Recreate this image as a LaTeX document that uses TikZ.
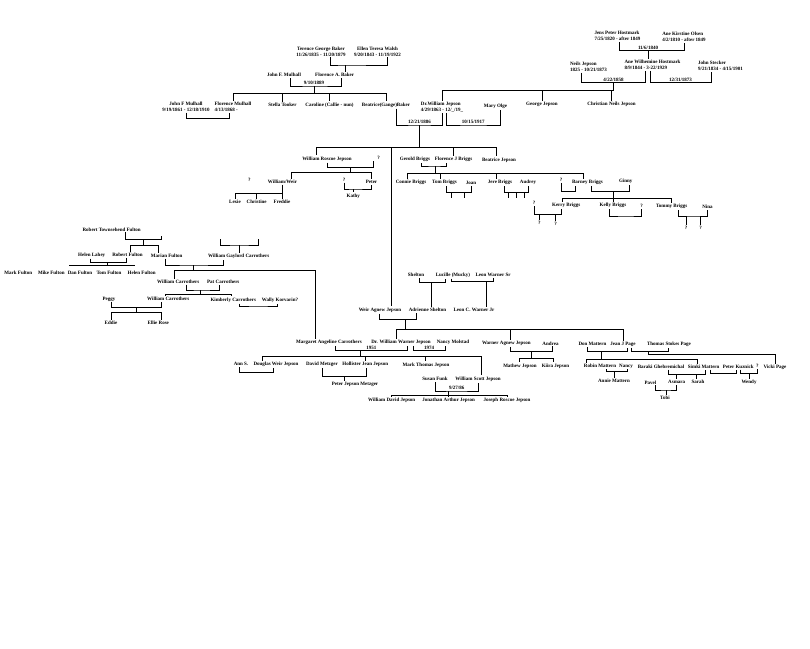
\documentclass[tikz,border=0pt]{standalone}
\usepackage{fontspec}
\setmainfont{Liberation Serif}

\begin{document}
\begin{tikzpicture}[x=1pt, y=-1pt, line width=0.9pt,
  font=\fontsize{5}{5.8}\selectfont\bfseries,
  person/.style={inner sep=0.8pt, align=center},
  dates/.style={inner sep=1pt, anchor=south}]
  \fill[white] (0,0) rectangle (810,648);
  \useasboundingbox (0,0) rectangle (810,648);

  % Hostmark and Jepson
  \node[person, align=left] (jens) at (617.5,36) {Jens Peter Hostmark\\7/25/1820 - after 1849};
  \node[person, align=left] (kirstine) at (684,37) {Ane Kirstine Olsen\\4/2/1810 - after 1849};
  \node[person, align=left] (neils) at (588.5,66.7) {Neils Jepson\\1825 - 10/21/1873};
  \node[person, align=left] (anew) at (652.5,65) {Ane Wilhemine Hostmark\\8/9/1844 - 3-22/1929};
  \node[person, align=left] (stecker) at (720.5,66) {John Stecker\\9/21/1834 - 4/15/1901};
  \node[dates] (m1840) at (648,50.7) {11/6/1840};
  \node[dates] (m1858) at (613.5,82.7) {4/22/1858};
  \node[dates] (m1873) at (680.5,82.7) {12/31/1873};
  \draw ([xshift=1.5pt]jens.south) |- (m1840.south) -| (kirstine.south);
  \draw (m1840.south) -- (m1840.south |- anew.north);
  \draw ([xshift=-7pt]neils.south) |- (m1858.south) -| ([xshift=-7pt]anew.south);
  \draw ([xshift=-2.5pt]anew.south) |- (m1873.south) -| ([xshift=-9.5pt]stecker.south);
  \node[person, align=left] (drwill) at (442,107.2) {Dr.William Jepson\\4/29/1863 - 12/\_/19\_};
  \node[person] (george) at (542,104.3) {George Jepson};
  \node[person] (christian) at (611.5,104.3) {Christian Neils Jepson};
  \node[person] (mary) at (495.5,106) {Mary Olge};
  \coordinate (k1858) at (613.5,90.7);
  \draw (m1858.south) -- (k1858);
  \foreach \c in {drwill,george,christian} \draw (k1858) -| (\c.north);

  % Baker and Mulhall
  \node[person] (terence) at (321,51.5) {Terence George Baker\\11/26/1835 - 11/20/1879};
  \node[person] (ellen) at (377.5,51.5) {Ellen Teresa Walsh\\9/20/1843 - 11/19/1922};
  \node[person] (mulhall) at (284,75) {John F. Mulhall};
  \node[person] (florbaker) at (334.7,75) {Florence A. Baker};
  \coordinate (mbaker) at (345,65);
  \draw ([xshift=9pt]terence.south) |- (mbaker) -| ([xshift=10pt]ellen.south);
  \draw (mbaker) -- (mbaker |- florbaker.north);
  \node[dates] (m1889) at (314,86) {9/10/1889};
  \draw ([xshift=6.7pt]mulhall.south) |- (m1889.south) -| ([xshift=7pt]florbaker.south);
  \node[person] (johnfm) at (186,106.8) {John F Mulhall\\9/19/1861 - 12/18/1910};
  \node[person, align=left] (flormul) at (233,106.8) {Florence Mulhall\\4/13/1868 -};
  \node[person] (stella) at (282.5,105) {Stella Tooker};
  \node[person] (caroline) at (329.5,105) {Caroline (Callie - nun)};
  \node[person] (beagb) at (386,105) {Beatrice(Gange)Baker};
  \coordinate (k1889) at (314,93.3);
  \draw (m1889.south) -- (k1889);
  \foreach \c in {flormul,stella,caroline,beagb} \draw (k1889) -| (\c.north);
  \coordinate (mmul) at (207.7,118.3);
  \draw (johnfm.south) |- (mmul) -| ([xshift=-3.5pt]flormul.south);

  % Dr. William Jepson
  \node[dates] (m1886) at (419.5,125) {12/21/1886};
  \node[dates] (m1917) at (473.3,125) {10/15/1917};
  \draw ([xshift=10.7pt]beagb.south) |- (m1886.south) -| (drwill.south);
  \draw ([xshift=4.7pt]drwill.south) |- (m1917.south) -| ([xshift=4.5pt]mary.south);
  \coordinate (k1886) at (419.5,147.5);
  \draw (m1886.south) -- (k1886);

  % William Roscoe Jepson
  \node[person] (wroscoe) at (327,159) {William Roscoe Jepson};
  \node[person] (q1) at (378.7,158.3) {?};
  \node[person] (q2) at (249.3,180) {?};
  \node[person] (wweir) at (282.5,181.7) {William/Weir};
  \node[person] (q3) at (344,179.7) {?};
  \node[person] (peter) at (371.5,181.7) {Peter};
  \node[person] (kathy) at (353.3,196) {Kathy};
  \node[person] (lexie) at (235,201.7) {Lexie};
  \node[person] (christine) at (256.7,201.7) {Christine};
  \node[person] (freddie) at (282,201.7) {Freddie};
  \draw (k1886) -| ([xshift=-11pt]wroscoe.north);
  \coordinate (mrj) at (350,167.7);
  \draw (wroscoe.south) |- (mrj) -| ([xshift=-5pt]q1.south);
  \coordinate (krj) at (350,172.3);
  \draw (mrj) -- (krj);
  \draw (krj) -| ([xshift=8.5pt]wweir.north);
  \draw (krj) -| (peter.north);
  \coordinate (mqp) at (353.3,189);
  \draw (q3.south) |- (mqp) -| (peter.south);
  \draw (mqp) -- (kathy.north);
  \coordinate (kww) at (282.5,193.3);
  \draw (wweir.south) -- (kww);
  \foreach \c in {lexie,christine,freddie} \draw (kww) -| (\c.north);

  % Briggs
  \node[person] (gerold) at (415,159.5) {Gerold Briggs};
  \node[person] (florj) at (453.5,159.5) {Florence J Briggs};
  \node[person] (beajep) at (499,160) {Beatrice Jepson};
  \draw (k1886) -| (florj.north);
  \draw (k1886) -| ([xshift=-3pt]beajep.north);
  \coordinate (mgb) at (435,166);
  \draw ([xshift=6.7pt]gerold.south) |- (mgb) -| ([xshift=-6.8pt]florj.south);
  \coordinate (kgb) at (435,173.3);
  \draw (mgb) -- (kgb);
  \node[person] (connie) at (411,182.7) {Connie Briggs};
  \node[person] (tom) at (444.5,182.7) {Tom Briggs};
  \node[person] (joan) at (471,182.7) {Joan};
  \node[person] (jere) at (500,182.7) {Jere Briggs};
  \node[person] (audrey) at (528,182.7) {Audrey};
  \node[person] (q4) at (561,180) {?};
  \node[person] (barney) at (587.5,182.7) {Barney Briggs};
  \node[person] (ginny) at (625.8,181.7) {Ginny};
  \foreach \c in {connie,tom,jere,barney} \draw (kgb) -| ([xshift=-4pt]\c.north);
  \coordinate (mtj) at (459,192.7);
  \draw ([xshift=2.2pt]tom.south) |- (mtj) -| (joan.south);
  \foreach \dx in {-7.3,5} \draw ([xshift=\dx pt]mtj) -- ++(0,5.6);
  \coordinate (mja) at (516.3,192.7);
  \draw ([xshift=4pt]jere.south) |- (mja) -| (audrey.south);
  \foreach \dx in {-8,0,7.7} \draw ([xshift=\dx pt]mja) -- ++(0,5.6);
  \coordinate (mqb) at (568,191.7);
  \draw (q4.south) |- (mqb) -| ([xshift=-12.5pt]barney.south);
  \coordinate (mbg) at (613.3,191.7);
  \draw ([xshift=4pt]barney.south) |- (mbg) -| ([xshift=4pt]ginny.south);
  \node[person] (q6) at (534,203.3) {?};
  \node[person] (kerry) at (566.2,205.7) {Kerry Briggs};
  \node[person] (kelly) at (613,205.7) {Kelly Briggs};
  \node[person] (q5) at (641.7,205.7) {?};
  \node[person] (tommy) at (671.7,206.7) {Tommy Briggs};
  \node[person] (nina) at (707.5,206.7) {Nina};
  \coordinate (kbg) at (613.3,198.3);
  \draw (mbg) -- (kbg);
  \draw (kbg) -| ([xshift=-3.5pt]kerry.north);
  \draw (kbg) -| (kelly.north);
  \draw (kbg) -| (tommy.north);
  \coordinate (mqk) at (548.3,214.3);
  \draw (q6.south) |- (mqk) -| ([xshift=-4.5pt]kerry.south);
  \node[person] (q7) at (539.3,223.3) {?};
  \node[person] (q8) at (555.7,224) {?};
  \draw (mqk -| q7.north) -- (q7.north);
  \draw (mqk -| q8.north) -- (q8.north);
  \coordinate (mkq) at (626.3,216);
  \draw ([xshift=-3.7pt]kelly.south) |- (mkq) -| (q5.south);
  \coordinate (mtn) at (693.3,216);
  \draw ([xshift=6.6pt]tommy.south) |- (mtn) -| (nina.south);
  \node[person] (q9) at (686,227.7) {?};
  \node[person] (q10) at (700.7,227.7) {?};
  \draw (mtn -| q9.north) -- (q9.north);
  \draw (mtn -| q10.north) -- (q10.north);

  % Fulton
  \node[person] (rtf) at (111.7,229.3) {Robert Townsehend Fulton};
  \node[person] (helen) at (91.7,255) {Helen Lahey};
  \node[person] (robf) at (127.5,255) {Robert Fulton};
  \node[person] (marian) at (166.7,255.7) {Marian Fulton};
  \coordinate (rtfsp) at (161.7,235.5);
  \coordinate (mrtf) at (143.3,239.3);
  \draw ([xshift=13.3pt]rtf.south) |- (mrtf) -| (rtfsp);
  \coordinate (krtf) at (143.3,245.7);
  \draw (mrtf) -- (krtf);
  \draw (krtf) -| ([xshift=2.5pt]robf.north);
  \draw (krtf) -| ([xshift=-8.4pt]marian.north);
  \coordinate (mhr) at (107.3,262.3);
  \draw ([xshift=-1pt]helen.south) |- (mhr) -| ([xshift=-0.8pt]robf.south);
  \coordinate (khrl) at (69.3,265.7);
  \coordinate (khrr) at (135,265.7);
  \draw (mhr) -- (mhr |- khrl);
  \draw (khrl) -- (khrr);
  \node[person] (mark) at (18.3,272.3) {Mark Fulton};
  \node[person] (mike) at (51.3,272.3) {Mike Fulton};
  \node[person] (dan) at (80,272.3) {Dan Fulton};
  \node[person] (tomf) at (109,272.3) {Tom Fulton};
  \node[person] (helenf) at (141.7,272.3) {Helen Fulton};

  % Carrothers
  \node[person] (wgc) at (238.7,256.7) {William Gaylord Carrothers};
  \coordinate (wgcpa) at (220,239);
  \coordinate (wgcpb) at (258.3,239);
  \coordinate (mwgc) at (239.3,245);
  \draw (wgcpa) |- (mwgc) -| (wgcpb);
  \draw (mwgc) -- (mwgc |- wgc.north);
  \coordinate (mmw) at (193.3,265);
  \draw ([xshift=-1.7pt]marian.south) |- (mmw) -| ([xshift=-15.4pt]wgc.south);
  \coordinate (kmw) at (193.3,270.7);
  \draw (mmw) -- (kmw);
  \node[person] (wcar) at (178.3,281.7) {William Carrothers};
  \node[person] (pat) at (223.3,281.7) {Pat Carrothers};
  \draw (kmw) -| ([xshift=-4pt]wcar.north);
  \coordinate (mwp) at (200.7,290);
  \draw ([xshift=8.4pt]wcar.south) |- (mwp) -| ([xshift=-4.3pt]pat.south);
  \coordinate (kwp) at (200.7,294);
  \draw (mwp) -- (kwp);
  \node[person] (peggy) at (109,299) {Peggy};
  \node[person] (wcarjr) at (168.3,299) {William Carrothers};
  \node[person] (kim) at (233.3,300) {Kimberly Carrothers};
  \node[person] (wally) at (280,300) {Wally Korvarin?};
  \draw (kwp) -| ([xshift=-3.3pt]wcarjr.north);
  \draw (kwp) -| ([xshift=-2.3pt]kim.north);
  \coordinate (mkw) at (258.3,306);
  \draw ([xshift=6pt]kim.south) |- (mkw) -| ([xshift=-2.7pt]wally.south);
  \coordinate (mpw) at (136.7,307.3);
  \draw ([xshift=2.7pt]peggy.south) |- (mpw) -| ([xshift=-6.6pt]wcarjr.south);
  \coordinate (kpw) at (136.7,312.7);
  \draw (mpw) -- (kpw);
  \node[person] (eddie) at (111,322.7) {Eddie};
  \node[person] (ellie) at (158.3,322.7) {Ellie Rose};
  \draw (kpw) -| (eddie.north);
  \draw (kpw) -| ([xshift=3.4pt]ellie.north);

  % Shelton and Warner
  \node[person] (shelton) at (416,275) {Shelton};
  \node[person] (lucille) at (453,275) {Lucille (Mucky)};
  \node[person] (leonsr) at (493,275) {Leon Warner Sr};
  \node[person] (weiraj) at (380,310) {Weir Agnew Jepson};
  \node[person] (adrienne) at (427.5,310) {Adrienne Shelton};
  \node[person] (leonjr) at (474,310) {Leon C. Warner Jr};
  \draw (k1886) -| ([xshift=11.7pt]weiraj.north);
  \coordinate (msl) at (431.7,282.3);
  \draw ([xshift=3.3pt]shelton.south) |- (msl) -| ([xshift=-8pt]lucille.south);
  \draw (msl) -- (msl |- adrienne.north);
  \coordinate (mll) at (486.7,281.7);
  \draw ([xshift=-1.3pt]lucille.south) |- (mll) -| (leonsr.south);
  \draw (mll) -- (mll |- leonjr.north);
  \coordinate (mwa) at (405,319.3);
  \draw ([xshift=-1pt]weiraj.south) |- (mwa) -| ([xshift=-10.8pt]adrienne.south);
  \coordinate (kwa) at (405,329);
  \draw (mwa) -- (kwa);

  % Dr. William Warner Jepson
  \node[person] (margaret) at (329,342.3) {Margaret Angeline Carrothers};
  \node[person] (drwwj) at (401,342.3) {Dr. William Warner Jepson};
  \node[person] (nancym) at (453,342.3) {Nancy Molstad};
  \draw (kmw) -| ([xshift=-14pt]margaret.north);
  \draw (kwa) -| ([xshift=-4.3pt]drwwj.north);
  \node[dates] (m1951) at (371.3,350.7) {1951};
  \node[dates] (m1974) at (429.2,350.7) {1974};
  \draw ([xshift=6pt]margaret.south) |- (m1951.south) -| ([xshift=6.7pt]drwwj.south);
  \draw ([xshift=12.3pt]drwwj.south) |- (m1974.south) -| ([xshift=-8pt]nancym.south);
  \node[person] (anns) at (241,364.3) {Ann S.};
  \node[person] (douglas) at (276,364.3) {Douglas Weir Jepson};
  \node[person] (metzger) at (322,364.3) {David Metzger};
  \node[person] (hollister) at (365.3,364.3) {Hollister Jean Jepson};
  \node[person] (markt) at (426,365) {Mark Thomas Jepson};
  \node[person] (susan) at (435,379) {Susan Funk};
  \node[person] (wscott) at (478,379) {William Scott Jepson};
  \coordinate (k1951) at (360,356.7);
  \draw (k1951 |- m1951.south) -- (k1951);
  \draw (k1951) -| ([xshift=-13.7pt]douglas.north);
  \draw (k1951) -| (hollister.north);
  \draw (k1951) -| ([xshift=-1pt]markt.north);
  \draw (k1951) -| ([xshift=3.7pt]wscott.north);
  \coordinate (mad) at (256,372.3);
  \draw ([xshift=-2pt]anns.south) |- (mad) -| ([xshift=-2.7pt]douglas.south);
  \coordinate (mmh) at (344,376.7);
  \draw (metzger.south) |- (mmh) -| ([xshift=1.4pt]hollister.south);
  \node[person] (petermz) at (355,384) {Peter Jepson Metzger};
  \draw (mmh) -- (mmh |- petermz.north);
  \node[dates] (m86) at (456.7,391) {9/27/86};
  \draw (susan.south) |- (m86.south) -| ([xshift=0.3pt]wscott.south);
  \coordinate (k86) at (448.3,395);
  \draw (k86 |- m86.south) -- (k86);
  \node[person] (wdavid) at (391.7,400.7) {William David Jepson};
  \node[person] (jonathan) at (448.7,400.7) {Jonathan Arthur Jepson};
  \node[person] (joseph) at (507,400.7) {Joseph Roscoe Jepson};
  \foreach \c in {wdavid,jonathan,joseph} \draw (k86) -| (\c.north);

  % Warner Agnew Jepson
  \node[person] (warneraj) at (506.3,343.3) {Warner Agnew Jepson};
  \node[person] (andrea) at (550.5,343.3) {Andrea};
  \draw (kwa) -| ([xshift=3.7pt]warneraj.north);
  \coordinate (mwan) at (531.7,351.7);
  \draw ([xshift=4.4pt]warneraj.south) |- (mwan) -| ([xshift=1.8pt]andrea.south);
  \coordinate (kwan) at (531.7,358.3);
  \draw (mwan) -- (kwan);
  \node[person] (mathew) at (520,366) {Mathew Jepson};
  \node[person] (kiira) at (555.5,366) {Kiira Jepson};
  \draw (kwan) -| ([xshift=-1pt]mathew.north);
  \draw (kwan) -| ([xshift=-2.2pt]kiira.north);

  % Mattern and Page
  \node[person] (don) at (592.5,344.3) {Don Mattern};
  \node[person] (jeanp) at (623,344.3) {Jean J Page};
  \node[person] (thomasp) at (669,344.3) {Thomas Stokes Page};
  \draw (kwa) -| (jeanp.north);
  \node[person] (robin) at (600,366) {Robin Mattern};
  \node[person] (nancy) at (626,366) {Nancy};
  \node[person] (baraki) at (661,366.7) {Baraki Ghebremichal};
  \node[person] (simki) at (703.7,366.7) {Simki Mattern};
  \node[person] (peterk) at (738.3,366.7) {Peter Kuznick};
  \node[person] (q11) at (757.3,366) {?};
  \node[person] (vicki) at (775,367.3) {Vicki Page};
  \coordinate (mdj) at (601.7,351.7);
  \draw ([xshift=-4.8pt]don.south) |- (mdj) -| ([xshift=4.7pt]jeanp.south);
  \coordinate (kdj) at (601.7,359.3);
  \draw (mdj) -- (kdj);
  \draw (kdj) -| ([xshift=-13.3pt]robin.north);
  \draw (kdj) -| ([xshift=-6.4pt]simki.north);
  \coordinate (mjt) at (648.3,351.7);
  \draw ([xshift=8.7pt]jeanp.south) |- (mjt) -| ([xshift=-0.7pt]thomasp.south);
  \coordinate (kjt) at (648.3,354.3);
  \draw (mjt) -- (kjt) -| (vicki.north);
  \coordinate (mrn) at (614,371.7);
  \draw ([xshift=6.7pt]robin.south) |- (mrn) -| ([xshift=1.3pt]nancy.south);
  \node[person] (annie) at (614,380.7) {Annie Mattern};
  \draw (mrn) -- (annie.north);
  \coordinate (mbs) at (696,374.3);
  \draw ([xshift=7.3pt]baraki.south) |- (mbs) -| ([xshift=1.3pt]simki.south);
  \node[person] (pavel) at (650.5,382.3) {Pavel};
  \node[person] (asmara) at (676.7,382.3) {Asmara};
  \node[person] (sarah) at (698,381.7) {Sarah};
  \draw (mbs) -- (mbs |- sarah.north);
  \draw (asmara.north |- mbs) -- (asmara.north);
  \coordinate (msp) at (723.3,373.3);
  \draw ([xshift=6.3pt]simki.south) |- (msp) -| ([xshift=-1.6pt]peterk.south);
  \coordinate (mpq) at (749.3,373.3);
  \draw ([xshift=1.7pt]peterk.south) |- (mpq) -| (q11.south);
  \node[person] (wendy) at (749,382.3) {Wendy};
  \draw (mpq) -- (mpq |- wendy.north);
  \coordinate (mpa) at (666,390);
  \draw ([xshift=4.5pt]pavel.south) |- (mpa) -| (asmara.south);
  \node[person] (tobi) at (665,397.7) {Tobi};
  \draw (mpa) -- (mpa |- tobi.north);
\end{tikzpicture}
\end{document}
